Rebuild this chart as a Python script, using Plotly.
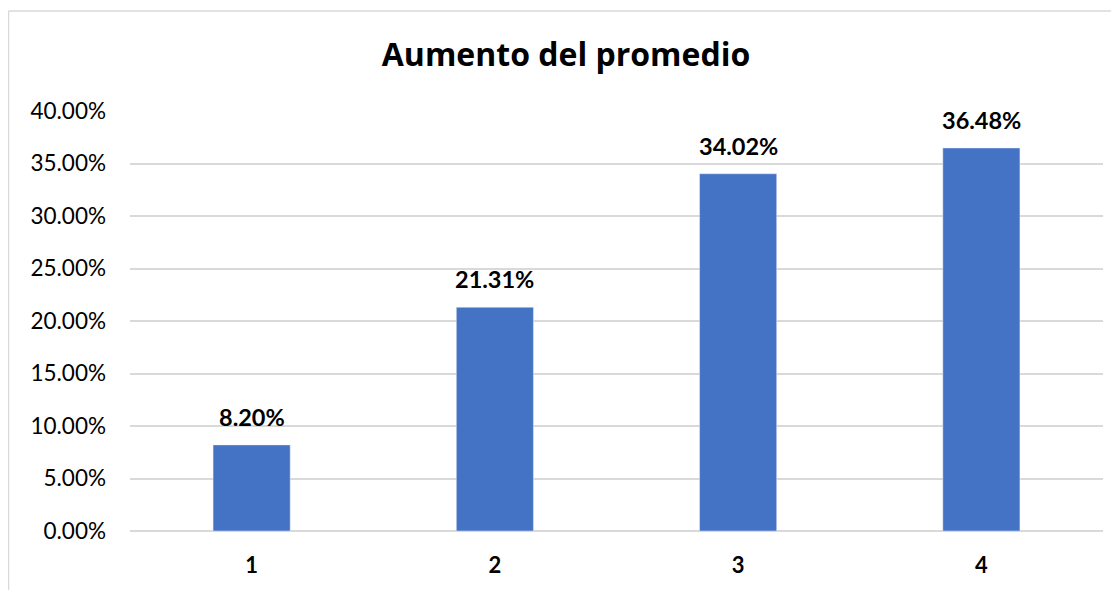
import plotly.graph_objects as go

# data
categories = ["1", "2", "3", "4"]
values = [0.0820, 0.2131, 0.3402, 0.3648]
y_ticks = [0, 0.05, 0.10, 0.15, 0.20, 0.25, 0.30, 0.35, 0.40]

# page is drawn with an 8px body margin, so figure coords = screen - 8
W, H = 1119, 590
L, R, T, B = 122, 24, 103, 67
pw, ph = W - L - R, H - T - B

fig = go.Figure()
fig.add_trace(go.Bar(
    x=categories, y=values,
    marker_color="#4472c4",
    width=0.317,
    hoverinfo="skip",
))

# value labels above bars (category index so "1" isn't read as a position)
for i, v in enumerate(values):
    fig.add_annotation(
        x=i, y=v, text=f"<b>{v * 100:.2f}%</b>",
        showarrow=False, yanchor="bottom", yshift=12,
        font=dict(size=23.5, color="#000000"),
    )

# light grey chart border (left and top edges visible)
top_y = (H - 3 - B) / ph
left_x = (0.5 - L) / pw
fig.add_shape(type="line", xref="paper", yref="paper",
              x0=left_x, x1=(W + 5 - L) / pw, y0=top_y, y1=top_y,
              line=dict(color="#d9d9d9", width=1.5))
fig.add_shape(type="line", xref="paper", yref="paper",
              x0=left_x, x1=left_x, y0=top_y, y1=-1,
              line=dict(color="#d9d9d9", width=1.5))

fig.update_layout(
    width=W, height=H,
    margin=dict(l=L, r=R, t=T, b=B),
    paper_bgcolor="white", plot_bgcolor="white",
    font=dict(family="Lato, Calibri, sans-serif", color="#000000"),
    title=dict(text="<b>Aumento del promedio</b>", x=(566 - 8) / W,
               xanchor="center", y=1 - 47 / H, yanchor="middle",
               font=dict(size=32, family="Open Sans, sans-serif")),
    showlegend=False,
    bargap=0.68,
)
fig.update_yaxes(
    range=[0, 0.40], tickvals=y_ticks, tickformat=".2%",
    showgrid=True, gridcolor="#d9d9d9", gridwidth=1.5,
    zeroline=True, zerolinecolor="#d9d9d9", zerolinewidth=1.5,
    tickfont=dict(size=22.5), ticks="", showline=False,
    ticklabelstandoff=23,
    fixedrange=True,
)
fig.update_xaxes(
    type="category", range=[-0.5, 3.5],
    tickfont=dict(size=22),
    tickprefix="<b>", ticksuffix="</b>",
    showline=False, showgrid=False, ticks="",
    ticklabelstandoff=19,
    fixedrange=True,
)

fig.write_html("out.html")
